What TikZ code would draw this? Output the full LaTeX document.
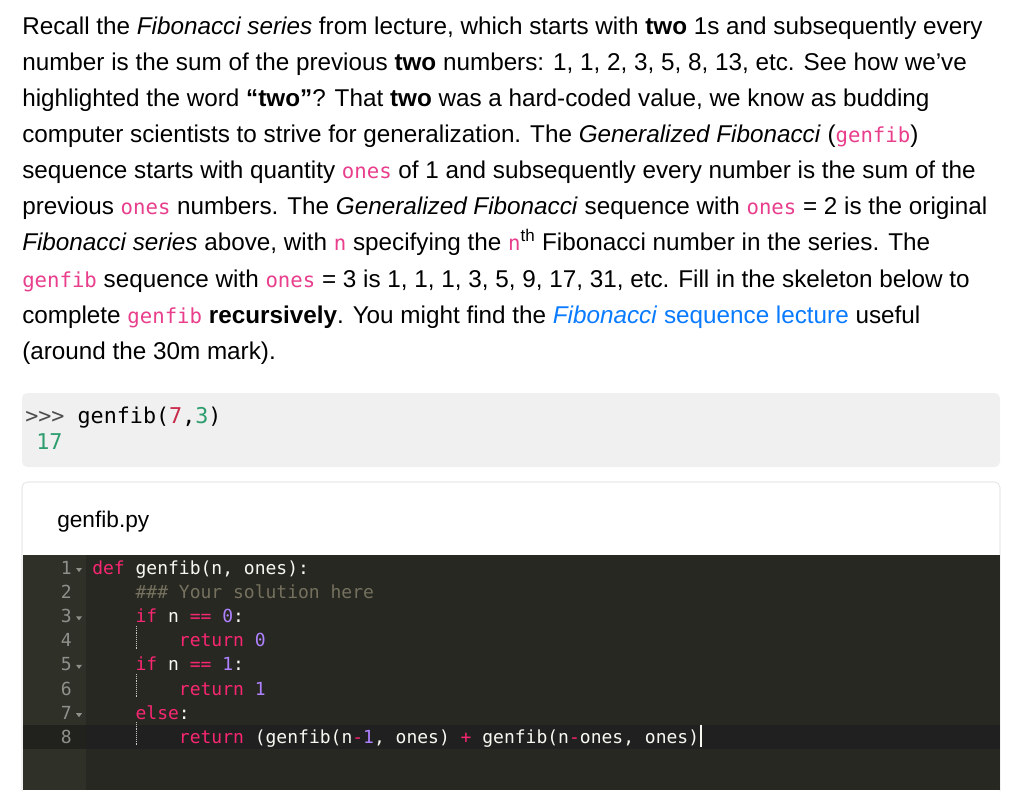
\documentclass[tikz,border=0pt]{standalone}
\usepackage{fontspec}
\setmainfont{Liberation Sans}
\newfontfamily\codefont{DejaVu Sans Mono}
\definecolor{icpink}{HTML}{E83E8C}
\definecolor{linkblue}{HTML}{0A7BFF}
\definecolor{kw}{HTML}{F92672}
\definecolor{num}{HTML}{AE81FF}
\definecolor{cmt}{HTML}{75715E}
\definecolor{plain}{HTML}{F8F8F2}
\definecolor{gnum}{HTML}{8F908A}
\definecolor{editbg}{HTML}{272822}
\definecolor{gutbg}{HTML}{2F3129}
\definecolor{actbg}{HTML}{202020}
\definecolor{shellgray}{HTML}{F0F0F0}
\definecolor{shellgreen}{HTML}{2E9E6E}
\definecolor{shellred}{HTML}{C92A4B}
\newcommand{\ic}[1]{{\codefont\fontsize{15.5}{18}\selectfont\color{icpink}#1}}
\newcommand{\kw}[1]{\textcolor{kw}{#1}}
\newcommand{\nm}[1]{\textcolor{num}{#1}}
\begin{document}
\begin{tikzpicture}[x=0.75pt,y=-0.75pt,
    prose/.style={anchor=base west,inner sep=0pt,font=\fontsize{18.2}{22}\selectfont},
    codeline/.style={anchor=base west,inner sep=0pt,text=plain,font=\codefont\fontsize{13.5}{16}\selectfont},
    linenum/.style={anchor=base east,inner sep=0pt,text=gnum,font=\codefont\fontsize{13.5}{16}\selectfont}]
  \useasboundingbox[fill=white] (0,0) rectangle (1024,790);
  % prose
  \node[prose] (l1) at (22,34) {Recall the \textit{Fibonacci series} from lecture, which starts with \textbf{two} 1s and subsequently every};
  \node[prose] (l2) at (22,70) {number is the sum of the previous \textbf{two} numbers: 1, 1, 2, 3, 5, 8, 13, etc. See how we’ve};
  \node[prose] (l3) at (22,106) {highlighted the word \textbf{“two”}? That \textbf{two} was a hard-coded value, we know as budding};
  \node[prose] (l4) at (22,142) {computer scientists to strive for generalization. The \textit{Generalized Fibonacci} (\ic{genfib})};
  \node[prose] (l5) at (22,178) {sequence starts with quantity \ic{ones} of 1 and subsequently every number is the sum of the};
  \node[prose] (l6) at (22,214) {previous \ic{ones} numbers. The \textit{Generalized Fibonacci} sequence with \ic{ones} = 2 is the original};
  \node[prose] (l7) at (22,250) {\textit{Fibonacci series} above, with \ic{n} specifying the \ic{n}\textsuperscript{th} Fibonacci number in the series. The};
  \node[prose] (l8) at (22,287) {\ic{genfib} sequence with \ic{ones} = 3 is 1, 1, 1, 3, 5, 9, 17, 31, etc. Fill in the skeleton below to};
  \node[prose] (l9) at (22,323) {complete \ic{genfib} \textbf{recursively}. You might find the \textcolor{linkblue}{\textit{Fibonacci} sequence lecture} useful};
  \node[prose] (l10) at (22,359) {(around the 30m mark).};
  % shell box
  \fill[shellgray,rounded corners=4pt] (22,393) rectangle (1000,467);
  \node[anchor=base west,inner sep=0pt,font=\codefont\fontsize{16.3}{19}\selectfont] (sh1) at (25,423)
    {\textcolor{black!70}{>>>} genfib(\textcolor{shellred}{7},\textcolor{shellgreen}{3})};
  \node[anchor=base west,inner sep=0pt,font=\codefont\fontsize{16.3}{19}\selectfont,text=shellgreen] (sh2) at (36,449) {17};
  % editor frame
  \draw[black!15,fill=white,rounded corners=4pt] (22,482) rectangle (1000,800);
  \node[anchor=base west,inner sep=0pt,font=\fontsize{17}{20}\selectfont] (fname) at (57,527) {genfib.py};
  \fill[editbg] (22.5,555) rectangle (999.5,790);
  \fill[gutbg] (22.5,555) rectangle (86,790);
  \fill[actbg] (86,725) rectangle (999.5,749);
  \fill[gutbg!70!black] (22.5,725) rectangle (86,749);
  % line numbers
  \foreach \i in {1,...,8}
    \node[linenum] (n\i) at (72,574+24.2*\i-24.2) {\i};
  \foreach \i in {1,3,5,7}
    \fill[gnum] (76,568+24.2*\i-24.2) -- ++(6,0) -- ++(-3,4) -- cycle;
  \foreach \y in {626,674,722}
    \draw[gnum!50,densely dotted] (136,\y) -- ++(0,24);
  % code
  \node[codeline] (c1) at (92,574) {\kw{def} genfib(n, ones):};
  \node[codeline] (c2) at (92,598.2) {\phantom{xxxx}\textcolor{cmt}{\#\#\# Your solution here}};
  \node[codeline] (c3) at (92,622.4) {\phantom{xxxx}\kw{if} n \kw{==} \nm{0}:};
  \node[codeline] (c4) at (92,646.6) {\phantom{xxxxxxxx}\kw{return} \nm{0}};
  \node[codeline] (c5) at (92,670.8) {\phantom{xxxx}\kw{if} n \kw{==} \nm{1}:};
  \node[codeline] (c6) at (92,695) {\phantom{xxxxxxxx}\kw{return} \nm{1}};
  \node[codeline] (c7) at (92,719.2) {\phantom{xxxx}\kw{else}:};
  \node[codeline] (c8) at (92,743.4) {\phantom{xxxxxxxx}\kw{return} (genfib(n\kw{-}\nm{1}, ones) \kw{+} genfib(n\kw{-}ones, ones)};
  \draw[plain,line width=1.5pt] (c8.east) ++(2,-14) -- ++(0,22);
\end{tikzpicture}
\end{document}
